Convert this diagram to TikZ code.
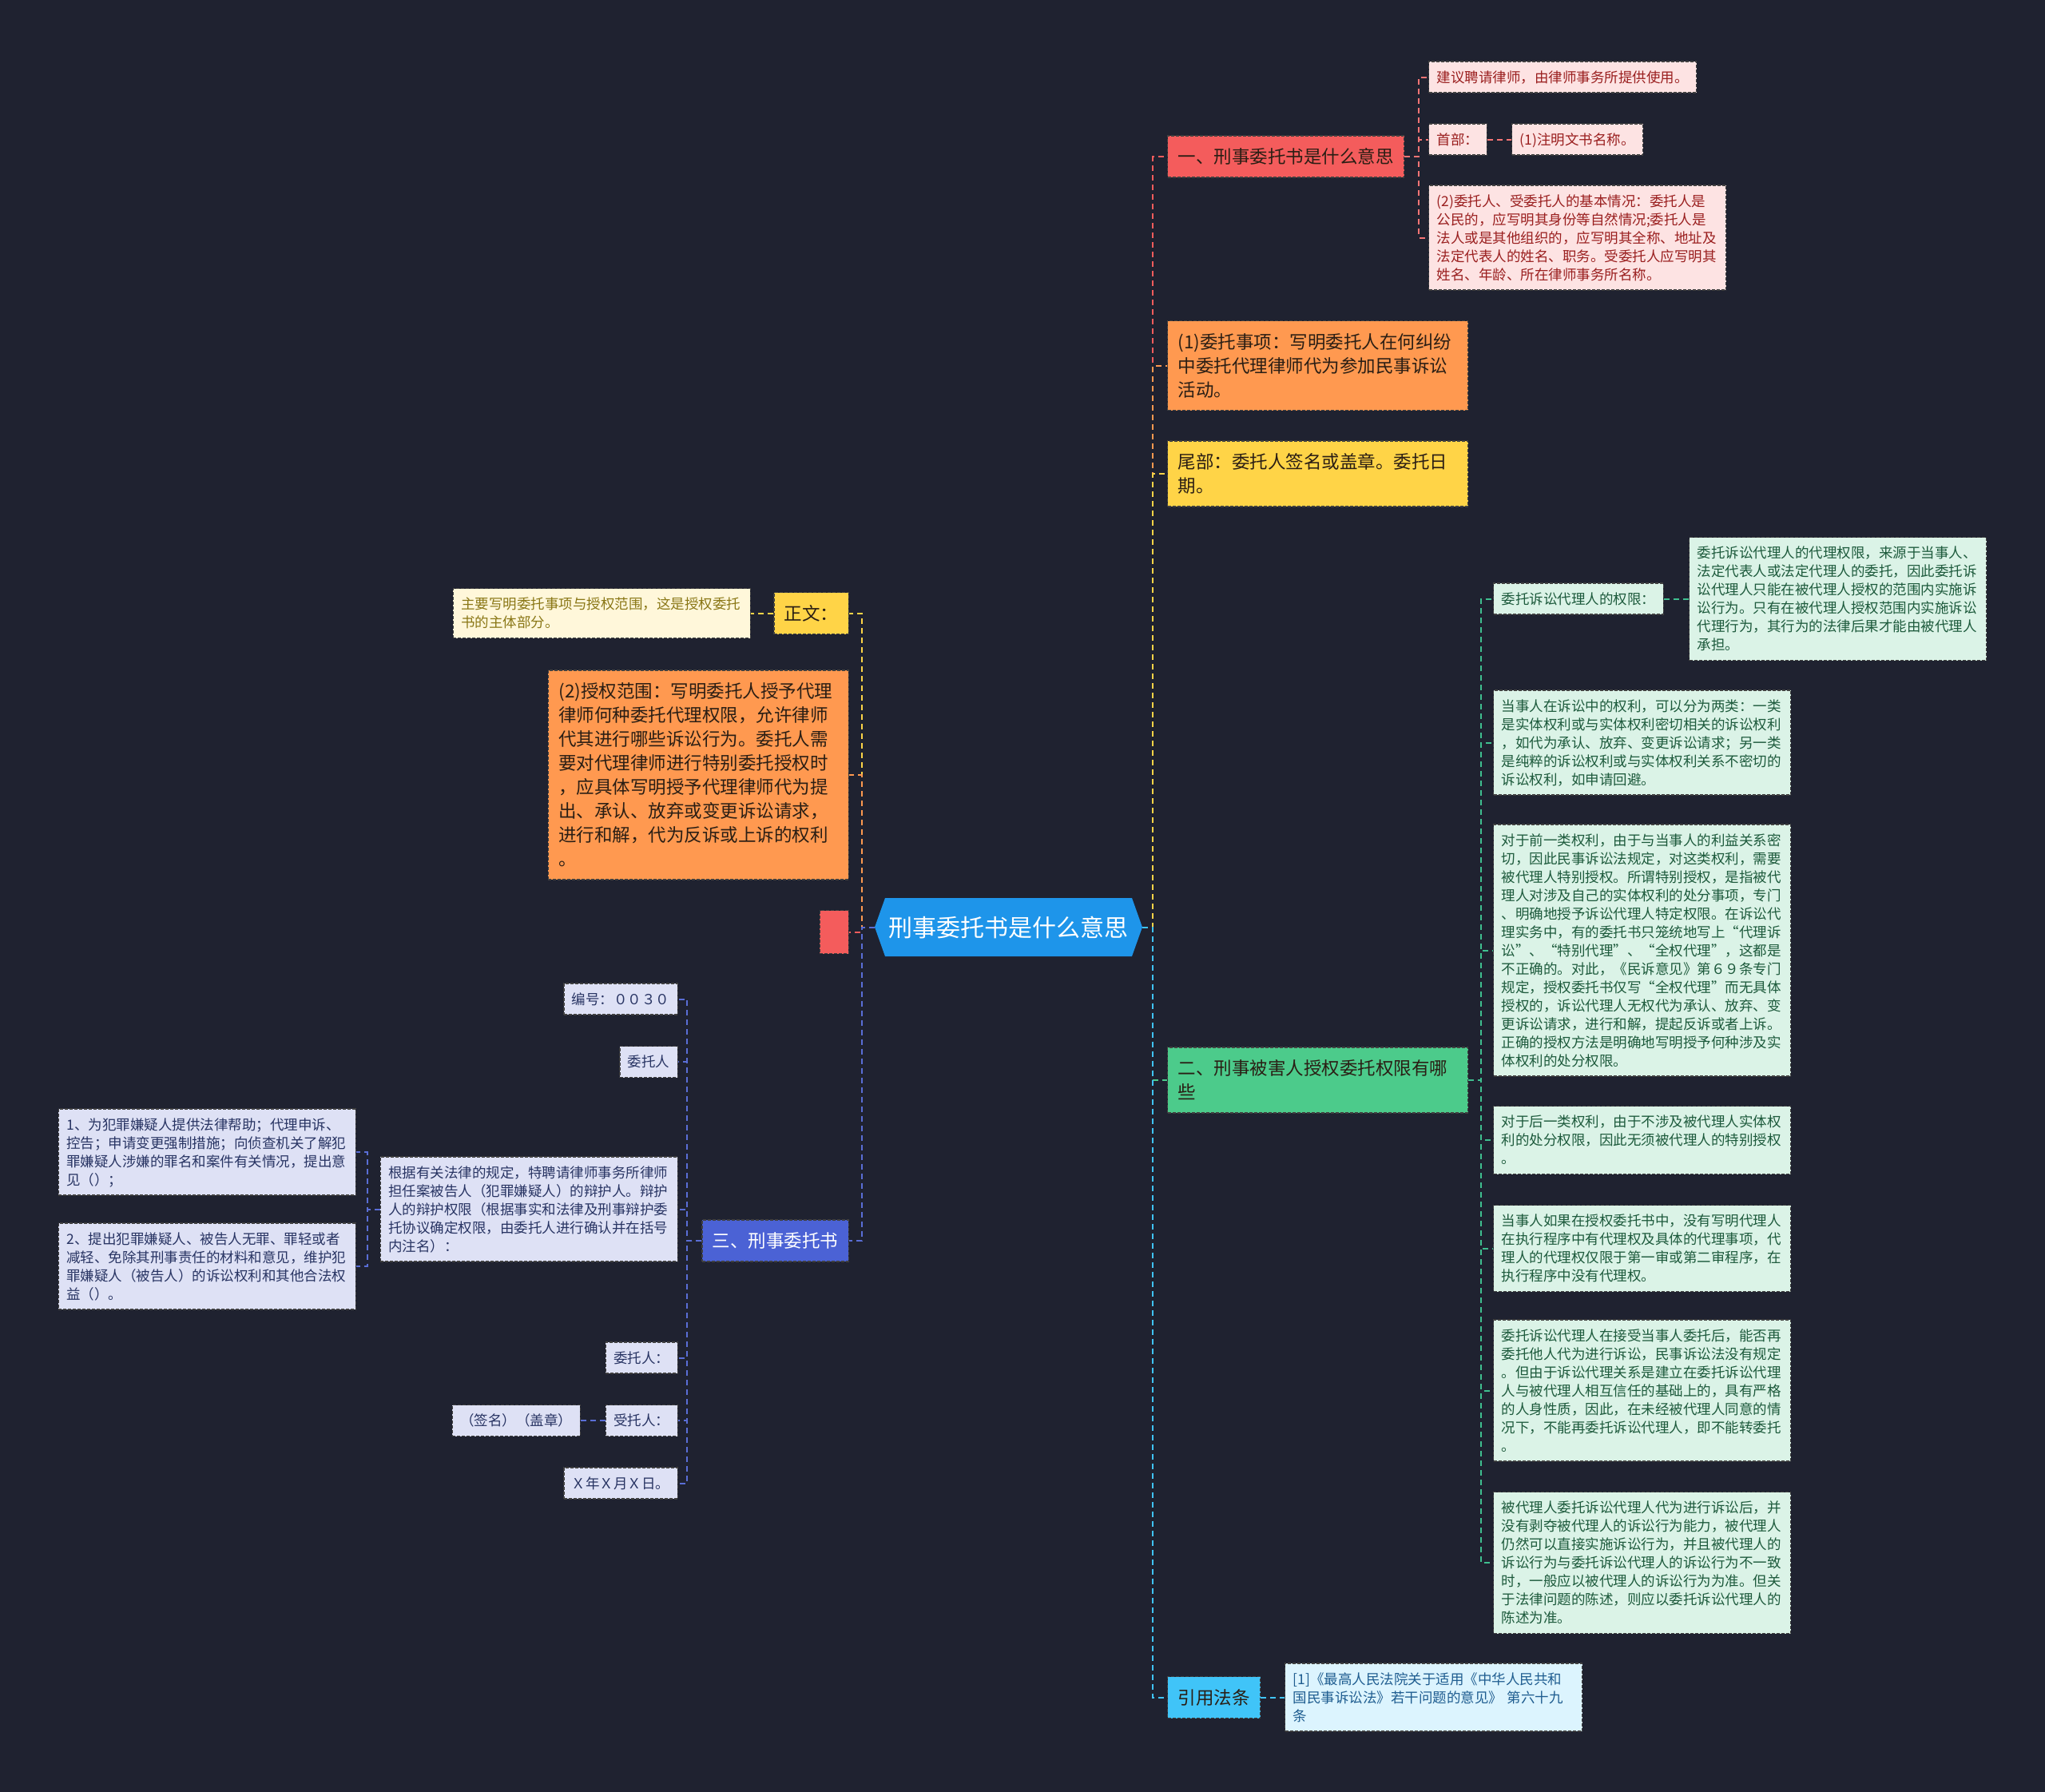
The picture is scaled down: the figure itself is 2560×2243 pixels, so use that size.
\documentclass[tikz,border=0pt]{standalone}
\usepackage{fontspec}
\setmainfont{Noto Sans CJK SC}
\definecolor{bgc}{HTML}{1F2230}
\definecolor{rootc}{HTML}{1E95EA}
\definecolor{redc}{HTML}{F45C5C}
\definecolor{pinkc}{HTML}{FDE3E3}
\definecolor{pinkt}{HTML}{9A1F1F}
\definecolor{orangec}{HTML}{FF9950}
\definecolor{yellowc}{HTML}{FFD447}
\definecolor{lightyc}{HTML}{FFF7DA}
\definecolor{lightyt}{HTML}{8A7716}
\definecolor{greenc}{HTML}{4CCB8B}
\definecolor{mintc}{HTML}{DBF3E7}
\definecolor{mintt}{HTML}{1D5A3C}
\definecolor{mintl}{HTML}{3FBF8F}
\definecolor{cyanc}{HTML}{40C4F8}
\definecolor{lcyanc}{HTML}{DCF4FE}
\definecolor{lcyant}{HTML}{1F5D90}
\definecolor{bluec}{HTML}{4B62D5}
\definecolor{bluel}{HTML}{5A6ED6}
\definecolor{lavc}{HTML}{DEE1F5}
\definecolor{lavt}{HTML}{283463}
\definecolor{darkt}{HTML}{2A1E14}
\newcommand\linestrut{\rule[-0.215\baselineskip]{0pt}{\baselineskip}}
\tikzset{
  box/.style={draw=black!75, dash pattern=on 4pt off 2pt, line width=1.2pt, align=left,
    execute at begin node=\linestrut, execute at end node=\linestrut},
  small/.style={box, font=\fontsize{17.5}{23}\selectfont, inner xsep=10pt, inner ysep=8pt},
  mid/.style={box, font=\fontsize{22.5}{30}\selectfont, inner xsep=13pt, inner ysep=11pt},
  smallwide/.style={small, text width=352pt},
  midwide/.style={mid, text width=350pt},
  link/.style={dash pattern=on 7pt off 5pt, line width=2pt},
  root/.style={minimum width=335pt, minimum height=73pt, inner sep=0pt, text=white,
    font=\fontsize{30}{36}\selectfont,
    path picture={\fill[rootc] (path picture bounding box.west)
      -- ([xshift=13pt]path picture bounding box.north west)
      -- ([xshift=-13pt]path picture bounding box.north east)
      -- (path picture bounding box.east)
      -- ([xshift=-13pt]path picture bounding box.south east)
      -- ([xshift=13pt]path picture bounding box.south west) -- cycle;}},
}
\begin{document}
\begin{tikzpicture}[x=1pt,y=-1pt]
\fill[bgc] (0,0) rectangle (2560,2243);

\node[root] (root) at (1262.5,1160.5) {刑事委托书是什么意思};

% right side
\node[mid, fill=redc, text=darkt, anchor=west] (b1) at (1461,196) {一、刑事委托书是什么意思};
\node[small, fill=pinkc, text=pinkt, anchor=west] (p1) at (1788,96.5) {建议聘请律师，由律师事务所提供使用。};
\node[small, fill=pinkc, text=pinkt, anchor=west] (p2) at (1788,174.5) {首部：};
\node[small, fill=pinkc, text=pinkt, anchor=west] (p2a) at (1892,174.5) {(1)注明文书名称。};
\node[smallwide, fill=pinkc, text=pinkt, anchor=west] (p3) at (1788,297.5) {(2)委托人、受委托人的基本情况：委托人是\\公民的，应写明其身份等自然情况;委托人是\\法人或是其他组织的，应写明其全称、地址及\\法定代表人的姓名、职务。受委托人应写明其\\姓名、年龄、所在律师事务所名称。};

\node[midwide, fill=orangec, text=darkt, anchor=west] (b2) at (1461,457.5) {(1)委托事项：写明委托人在何纠纷\\中委托代理律师代为参加民事诉讼\\活动。};
\node[midwide, fill=yellowc, text=darkt, anchor=west] (b3) at (1461,593) {尾部：委托人签名或盖章。委托日\\期。};
\node[midwide, fill=greenc, text=darkt, anchor=west] (b4) at (1461,1352) {二、刑事被害人授权委托权限有哪\\些};

\node[small, fill=mintc, text=mintt, anchor=west] (g1) at (1869,749.5) {委托诉讼代理人的权限：};
\node[smallwide, fill=mintc, text=mintt, anchor=west] (g1a) at (2114,749.5) {委托诉讼代理人的代理权限，来源于当事人、\\法定代表人或法定代理人的委托，因此委托诉\\讼代理人只能在被代理人授权的范围内实施诉\\讼行为。只有在被代理人授权范围内实施诉讼\\代理行为，其行为的法律后果才能由被代理人\\承担。};
\node[smallwide, fill=mintc, text=mintt, anchor=west] (g2) at (1869,929.5) {当事人在诉讼中的权利，可以分为两类：一类\\是实体权利或与实体权利密切相关的诉讼权利\\，如代为承认、放弃、变更诉讼请求；另一类\\是纯粹的诉讼权利或与实体权利关系不密切的\\诉讼权利，如申请回避。};
\node[smallwide, fill=mintc, text=mintt, anchor=west] (g3) at (1869,1189.5) {对于前一类权利，由于与当事人的利益关系密\\切，因此民事诉讼法规定，对这类权利，需要\\被代理人特别授权。所谓特别授权，是指被代\\理人对涉及自己的实体权利的处分事项，专门\\、明确地授予诉讼代理人特定权限。在诉讼代\\理实务中，有的委托书只笼统地写上“代理诉\\讼”、“特别代理”、“全权代理”，这都是\\不正确的。对此，《民诉意见》第６９条专门\\规定，授权委托书仅写“全权代理”而无具体\\授权的，诉讼代理人无权代为承认、放弃、变\\更诉讼请求，进行和解，提起反诉或者上诉。\\正确的授权方法是明确地写明授予何种涉及实\\体权利的处分权限。};
\node[smallwide, fill=mintc, text=mintt, anchor=west] (g4) at (1869,1427) {对于后一类权利，由于不涉及被代理人实体权\\利的处分权限，因此无须被代理人的特别授权\\。};
\node[smallwide, fill=mintc, text=mintt, anchor=west] (g5) at (1869,1562.5) {当事人如果在授权委托书中，没有写明代理人\\在执行程序中有代理权及具体的代理事项，代\\理人的代理权仅限于第一审或第二审程序，在\\执行程序中没有代理权。};
\node[smallwide, fill=mintc, text=mintt, anchor=west] (g6) at (1869,1740.5) {委托诉讼代理人在接受当事人委托后，能否再\\委托他人代为进行诉讼，民事诉讼法没有规定\\。但由于诉讼代理关系是建立在委托诉讼代理\\人与被代理人相互信任的基础上的，具有严格\\的人身性质，因此，在未经被代理人同意的情\\况下，不能再委托诉讼代理人，即不能转委托\\。};
\node[smallwide, fill=mintc, text=mintt, anchor=west] (g7) at (1869,1956) {被代理人委托诉讼代理人代为进行诉讼后，并\\没有剥夺被代理人的诉讼行为能力，被代理人\\仍然可以直接实施诉讼行为，并且被代理人的\\诉讼行为与委托诉讼代理人的诉讼行为不一致\\时，一般应以被代理人的诉讼行为为准。但关\\于法律问题的陈述，则应以委托诉讼代理人的\\陈述为准。};

\node[mid, fill=cyanc, text=darkt, anchor=west] (b5) at (1461,2124.5) {引用法条};
\node[smallwide, fill=lcyanc, text=lcyant, anchor=west] (b5a) at (1608,2124.5) {[1]《最高人民法院关于适用《中华人民共和\\国民事诉讼法》若干问题的意见》 第六十九\\条};

% left side
\node[mid, fill=yellowc, text=darkt, anchor=east] (zw) at (1063,767.5) {正文：};
\node[smallwide, fill=lightyc, text=lightyt, anchor=east] (zwa) at (940,767.5) {主要写明委托事项与授权范围，这是授权委托\\书的主体部分。};
\node[midwide, fill=orangec, text=darkt, anchor=east] (lo) at (1063,970) {(2)授权范围：写明委托人授予代理\\律师何种委托代理权限，允许律师\\代其进行哪些诉讼行为。委托人需\\要对代理律师进行特别委托授权时\\，应具体写明授予代理律师代为提\\出、承认、放弃或变更诉讼请求，\\进行和解，代为反诉或上诉的权利\\。};
\node[mid, fill=redc, minimum width=36pt, minimum height=54pt, inner sep=0pt, anchor=east] (redsq) at (1063,1166.5) {};
\node[mid, fill=bluec, text=white, anchor=east] (b6) at (1063,1553) {三、刑事委托书};

\node[small, fill=lavc, text=lavt, anchor=east] (l1) at (849,1250.5) {编号：００３０};
\node[small, fill=lavc, text=lavt, anchor=east] (l2) at (849,1329) {委托人};
\node[smallwide, fill=lavc, text=lavt, anchor=east] (l3) at (849,1513.5) {根据有关法律的规定，特聘请律师事务所律师\\担任案被告人（犯罪嫌疑人）的辩护人。辩护\\人的辩护权限（根据事实和法律及刑事辩护委\\托协议确定权限，由委托人进行确认并在括号\\内注名）：};
\node[smallwide, fill=lavc, text=lavt, anchor=east] (l3a) at (446,1442) {1、为犯罪嫌疑人提供法律帮助；代理申诉、\\控告；申请变更强制措施；向侦查机关了解犯\\罪嫌疑人涉嫌的罪名和案件有关情况，提出意\\见（）；};
\node[smallwide, fill=lavc, text=lavt, anchor=east] (l3b) at (446,1585) {2、提出犯罪嫌疑人、被告人无罪、罪轻或者\\减轻、免除其刑事责任的材料和意见，维护犯\\罪嫌疑人（被告人）的诉讼权利和其他合法权\\益（）。};
\node[small, fill=lavc, text=lavt, anchor=east] (l4) at (849,1699.5) {委托人：};
\node[small, fill=lavc, text=lavt, anchor=east] (l5) at (849,1778) {受托人：};
\node[small, fill=lavc, text=lavt, anchor=east] (l5a) at (727,1778) {（签名）（盖章）};
\node[small, fill=lavc, text=lavt, anchor=east] (l6) at (849,1856.5) {Ｘ年Ｘ月Ｘ日。};

% connectors
\draw[link, redc] (root.east) -- ++(13,0) |- (b1.west);
\draw[link, orangec] (root.east) -- ++(13,0) |- (b2.west);
\draw[link, yellowc] (root.east) -- ++(13,0) |- (b3.west);
\draw[link, greenc] (root.east) -- ++(13,0) |- (b4.west);
\draw[link, cyanc] (root.east) -- ++(13,0) |- (b5.west);
\foreach \n in {p1,p2,p3}
  \draw[link, redc!85!white] (b1.east) -- ++(18,0) |- (\n.west);
\draw[link, redc!85!white] (p2.east) -- (p2a.west);
\foreach \n in {g1,g2,g3,g4,g5,g6,g7}
  \draw[link, mintl] (b4.east) -- ++(16,0) |- (\n.west);
\draw[link, mintl] (g1.east) -- (g1a.west);
\draw[link, cyanc] (b5.east) -- (b5a.west);

\draw[link, yellowc] (root.west) -- ++(-16,0) |- (zw.east);
\draw[link, yellowc] (zw.west) -- (zwa.east);
\draw[link, orangec] (root.west) -- ++(-16,0) |- (lo.east);
\draw[link, redc] (root.west) -- ++(-16,0) |- (redsq.east);
\draw[link, bluel] (root.west) -- ++(-16,0) |- (b6.east);
\foreach \n in {l1,l2,l3,l4,l5,l6}
  \draw[link, bluel] (b6.west) -- ++(-18,0) |- (\n.east);
\foreach \n in {l3a,l3b}
  \draw[link, bluel] (l3.west) -- ++(-16,0) |- (\n.east);
\draw[link, bluel] (l5.west) -- (l5a.east);
\end{tikzpicture}
\end{document}
